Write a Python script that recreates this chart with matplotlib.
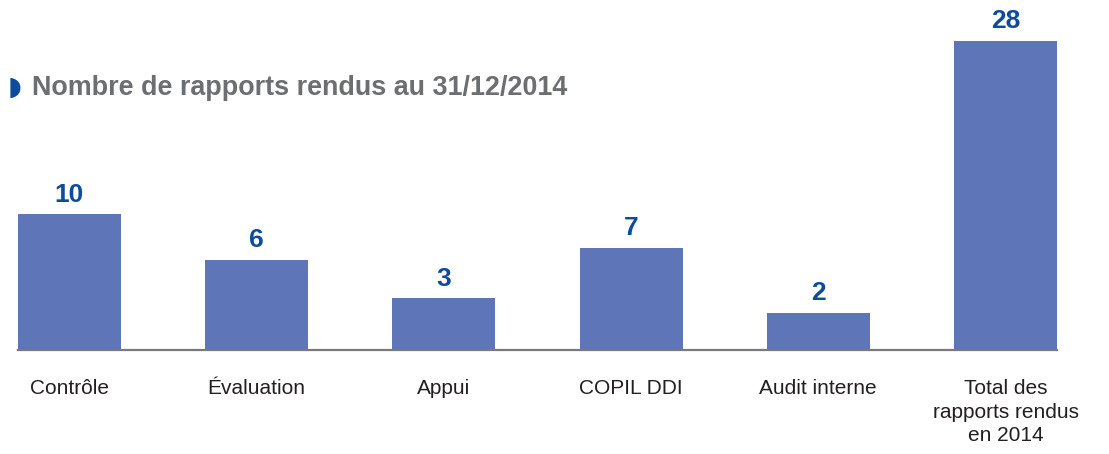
import numpy as np
import matplotlib.pyplot as plt

categories = ["Contrôle", "Évaluation", "Appui", "COPIL DDI", "Audit interne",
              "Total des\nrapports rendus\nen 2014"]
values = [10, 6, 3, 7, 2, 28]

bar_color = "#5e76b8"
value_color = "#0d4c9c"

# the original bars are not drawn on a linear scale, a power scale comes close
p = 0.8


def fwd(v):
    return np.power(np.clip(v, 0, None), p)


def inv(v):
    return np.power(np.clip(v, 0, None), 1 / p)


W, H = 1109, 454
fig = plt.figure(figsize=(W / 100, H / 100), dpi=100)
ax = fig.add_axes([18 / W, (H - 350) / H, 1039 / W, 309 / H])

x = np.arange(len(values))
ax.bar(x, values, width=0.55, color=bar_color, zorder=2)
ax.set_yscale("function", functions=(fwd, inv))
ax.set_xlim(-0.275, len(values) - 1 + 0.275)
ax.set_ylim(0, 28)

for xi, v in zip(x, values):
    ax.annotate(str(v), (xi, v), xytext=(0, 5.5), textcoords="offset points",
                ha="center", va="bottom", fontsize=19, fontweight="bold",
                color=value_color, family=["Liberation Sans", "DejaVu Sans"],
                annotation_clip=False)

for s in ["top", "right", "left"]:
    ax.spines[s].set_visible(False)
ax.spines["bottom"].set_color("#7a7a7d")
ax.spines["bottom"].set_linewidth(1.6)
ax.set_yticks([])
ax.set_xticks(x)
ax.set_xticklabels(categories, fontsize=15, color="#231f20",
                   family=["Liberation Sans Narrow", "Liberation Sans", "DejaVu Sans"],
                   linespacing=1.3)
ax.tick_params(axis="x", length=0, pad=21)

fig.text(8 / W, 1 - 88 / H, "◗", color=value_color, fontsize=19,
         va="center", ha="left", family="DejaVu Sans")
fig.text(32 / W, 1 - 88 / H, "Nombre de rapports rendus au 31/12/2014",
         color="#6d6e71", fontsize=19.4, fontweight="bold", va="center",
         ha="left", family=["Liberation Sans", "DejaVu Sans"])

fig.savefig("out.png", dpi=100)
